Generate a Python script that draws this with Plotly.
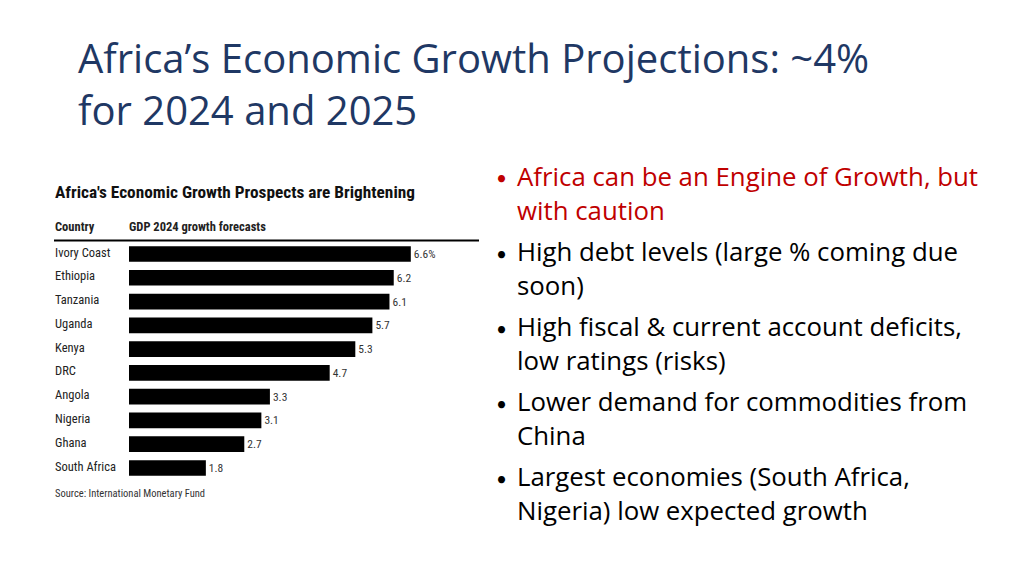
import plotly.graph_objects as go

countries = ["Ivory Coast", "Ethiopia", "Tanzania", "Uganda", "Kenya", "DRC",
             "Angola", "Nigeria", "Ghana", "South Africa"]
growth = [6.6, 6.2, 6.1, 5.7, 5.3, 4.7, 3.3, 3.1, 2.7, 1.8]
value_labels = ["6.6%", "6.2", "6.1", "5.7", "5.3", "4.7", "3.3", "3.1", "2.7", "1.8"]

title_lines = ["Africa\u2019s Economic Growth Projections: ~4%", "for 2024 and 2025"]
bullets = [
    (["Africa can be an Engine of Growth, but", "with caution"], "#C00000"),
    (["High debt levels (large % coming due", "soon)"], "#000000"),
    (["High fiscal & current account deficits,", "low ratings (risks)"], "#000000"),
    (["Lower demand for commodities from", "China"], "#000000"),
    (["Largest economies (South Africa,", "Nigeria) low expected growth"], "#000000"),
]
chart_title = "Africa's Economic Growth Prospects are Brightening"
col_country = "Country"
col_gdp = "GDP 2024 growth forecasts"
source = "Source: International Monetary Fund"

W, H = 1024, 576
OFF = 8  # page body margin
def px(x):
    return (x - OFF) / W
def py(y):
    return 1 - (y - OFF) / H

NARROW = "Liberation Sans Narrow, Arial Narrow, Roboto Condensed, Roboto, sans-serif"
SLIDE = "Open Sans, Carlito, Calibri, Lato, sans-serif"

fig = go.Figure()
fig.add_trace(go.Bar(
    x=growth, y=countries, orientation="h",
    marker=dict(color="#000000", line=dict(width=0)),
    width=0.66,
    text=value_labels, textposition="outside",
    textfont=dict(family=NARROW, size=11.5, color="#333333"),
    cliponaxis=False, hoverinfo="skip",
))

x0, x1 = 129, 478
scale = 42.7
top_c, bot_c = 254, 468
step = (bot_c - top_c) / 9
fig.update_layout(
    width=W, height=H, margin=dict(l=0, r=0, t=0, b=0),
    paper_bgcolor="white", plot_bgcolor="white", showlegend=False,
    xaxis=dict(domain=[px(x0), px(x1)], range=[0, (x1 - x0) / scale],
               visible=False, fixedrange=True),
    yaxis=dict(domain=[py(bot_c + step / 2), py(top_c - step / 2)],
               range=[9.5, -0.5], type="category", visible=False,
               categoryorder="array", categoryarray=countries),
)

ann = []
# title
ann.append(dict(text="<br>".join(title_lines), x=px(76), y=py(84), xref="paper", yref="paper",
                xanchor="left", yanchor="middle", align="left", showarrow=False,
                font=dict(family=SLIDE, size=40, color="#1F3864")))
# bullets
y = 177
for lines, color in bullets:
    ann.append(dict(text="\u2022", x=px(494), y=py(y + 1), xref="paper", yref="paper",
                    xanchor="left", yanchor="middle", showarrow=False,
                    font=dict(family="Lato, sans-serif", size=19, color=color)))
    ann.append(dict(text="<br>".join(lines), x=px(515), y=py(y + 16), xref="paper", yref="paper",
                    xanchor="left", yanchor="middle", align="left", showarrow=False,
                    font=dict(family=SLIDE, size=25.8, color=color)))
    y += 75
# chart header
ann.append(dict(text="<b>" + chart_title + "</b>", x=px(53), y=py(192), xref="paper", yref="paper",
                xanchor="left", yanchor="middle", showarrow=False,
                font=dict(family=NARROW, size=17.3, color="#111111")))
ann.append(dict(text="<b>" + col_country + "</b>", x=px(53), y=py(226), xref="paper", yref="paper",
                xanchor="left", yanchor="middle", showarrow=False,
                font=dict(family=NARROW, size=12.5, color="#222222")))
ann.append(dict(text="<b>" + col_gdp + "</b>", x=px(127), y=py(226), xref="paper", yref="paper",
                xanchor="left", yanchor="middle", showarrow=False,
                font=dict(family=NARROW, size=12.5, color="#222222")))
for c in countries:
    ann.append(dict(text=c, x=px(53), y=c, xref="paper", yref="y",
                    xanchor="left", yanchor="middle", showarrow=False, yshift=2,
                    font=dict(family=NARROW, size=12.5, color="#222222")))
ann.append(dict(text=source, x=px(53), y=py(493), xref="paper", yref="paper",
                xanchor="left", yanchor="middle", showarrow=False,
                font=dict(family=NARROW, size=10.5, color="#333333")))
fig.update_layout(annotations=ann)
fig.add_shape(type="line", xref="paper", yref="paper", x0=px(54), x1=px(479),
              y0=py(240.5), y1=py(240.5), line=dict(color="#000000", width=2))

fig.write_html("out.html")
